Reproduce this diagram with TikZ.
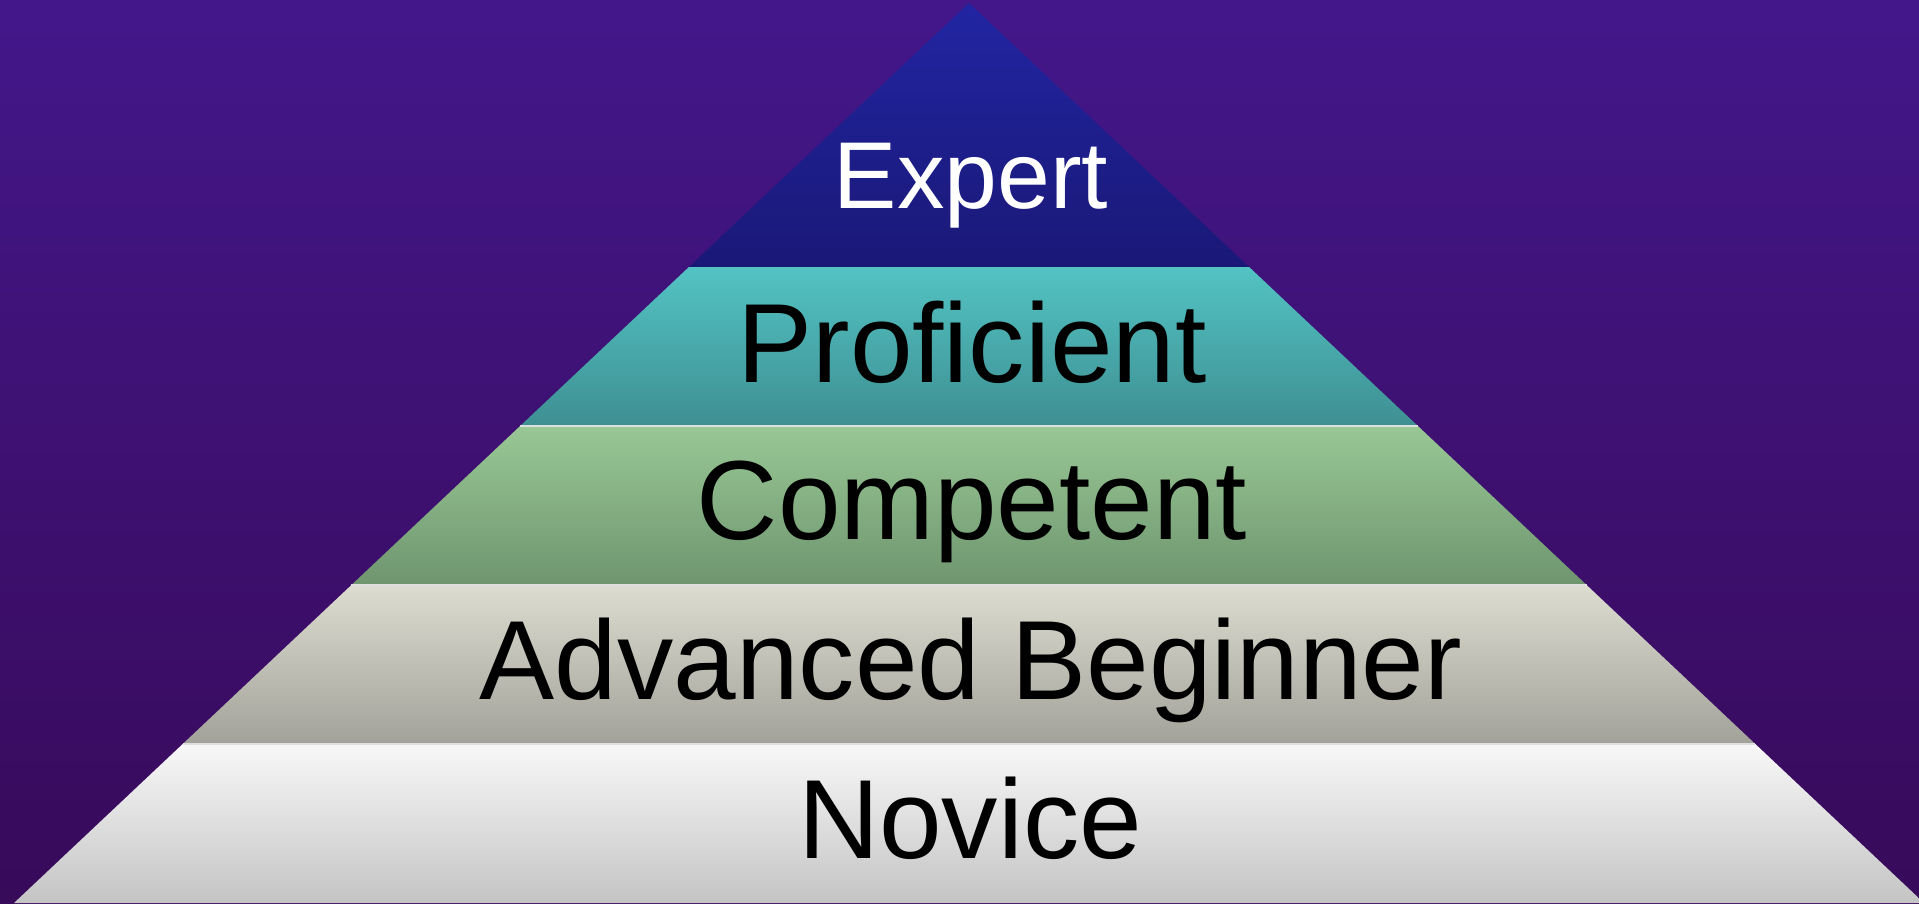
\documentclass[tikz,border=0pt]{standalone}
\usepackage{fontspec}
\setmainfont{Liberation Sans}

\definecolor{bgtop}{HTML}{43178A}
\definecolor{bgbot}{HTML}{380A5A}
\definecolor{exptop}{HTML}{2125A2}
\definecolor{expbot}{HTML}{1A1877}
\definecolor{protop}{HTML}{53C3C3}
\definecolor{probot}{HTML}{3E8F92}
\definecolor{comtop}{HTML}{98C895}
\definecolor{combot}{HTML}{6F956F}
\definecolor{advtop}{HTML}{DCDCD0}
\definecolor{advbot}{HTML}{A2A29A}
\definecolor{novtop}{HTML}{F8F8F8}
\definecolor{novbot}{HTML}{C4C4C4}

\tikzset{
  level/.style={font=\fontsize{32}{38}\selectfont, anchor=base},
}

\begin{document}
\begin{tikzpicture}[x=0.01cm, y=-0.01cm]
    \clip (0,0) rectangle (1919,903);
    \shade[top color=bgtop, bottom color=bgbot] (0,0) rectangle (1919,903);
    % pyramid bands, apex at (969,3)
    \shade[top color=exptop, bottom color=expbot]
      (969,3) -- (1249.1,267) -- (688.9,267) -- cycle;
    \shade[top color=protop, bottom color=probot]
      (688.9,267) -- (1249.1,267) -- (1417.9,426) -- (520.1,426) -- cycle;
    \shade[top color=comtop, bottom color=combot]
      (520.1,426) -- (1417.9,426) -- (1586.6,585) -- (351.4,585) -- cycle;
    \shade[top color=advtop, bottom color=advbot]
      (351.4,585) -- (1586.6,585) -- (1755.3,744) -- (182.7,744) -- cycle;
    \shade[top color=novtop, bottom color=novbot]
      (182.7,744) -- (1755.3,744) -- (1924,903) -- (14,903) -- cycle;
    % thin seams between the lower bands
    \foreach \xl/\xr/\y in {520.1/1417.9/426, 351.4/1586.6/585, 182.7/1755.3/744} {
      \draw[white!75!gray, line width=0.3pt] (\xl,\y) -- (\xr,\y);
    }
    \node[level, white, font=\fontsize{27}{32}\selectfont] (expert) at (971,208) {Expert};
    \node[level] (proficient) at (972,382) {Proficient};
    \node[level] (competent) at (972,539) {Competent};
    \node[level] (advanced) at (971,699) {Advanced Beginner};
    \node[level] (novice) at (970,858) {Novice};
\end{tikzpicture}
\end{document}
